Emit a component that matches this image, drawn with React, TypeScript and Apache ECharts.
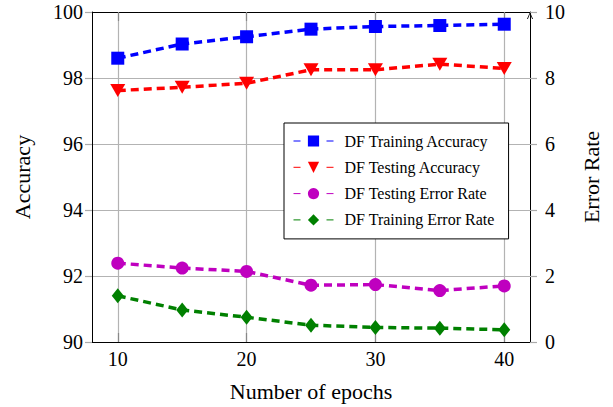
import React, { useEffect, useRef } from "react";
import * as echarts from "echarts";

const epochs = [10, 15, 20, 25, 30, 35, 40];
const xTicks = [10, 20, 30, 40];
const trainAcc = [98.6, 99.03, 99.25, 99.48, 99.56, 99.59, 99.63];
const testAcc = [97.62, 97.72, 97.84, 98.25, 98.25, 98.42, 98.29];
const testErr = [2.39, 2.24, 2.14, 1.72, 1.74, 1.56, 1.7];
const trainErr = [1.4, 0.97, 0.75, 0.51, 0.44, 0.42, 0.37];
const seriesNames = [
  "DF Training Accuracy",
  "DF Testing Accuracy",
  "DF Testing Error Rate",
  "DF Training Error Rate",
];

const FONT = "Liberation Serif";

function pairs(vals: number[]) {
  return epochs.map((x, i) => [x, vals[i]]);
}

export default function App() {
  const ref = useRef<HTMLDivElement>(null);
  useEffect(() => {
    if (!ref.current) return;
    const chart = echarts.init(ref.current, null, { renderer: "svg" });
    const dash = [8, 5];
    const mkSeries = (
      name: string,
      vals: number[],
      color: string,
      symbol: string,
      size: any,
      yAxisIndex: number,
      rotate = 0
    ) => ({
      name,
      type: "line",
      xAxisIndex: 0,
      yAxisIndex,
      data: pairs(vals),
      color,
      symbol,
      symbolSize: size,
      symbolRotate: rotate,
      showSymbol: true,
      lineStyle: { color, width: 3.5, type: dash },
      itemStyle: { color, opacity: 1 },
      z: 3,
    });
    chart.setOption({
      animation: false,
      backgroundColor: "#ffffff",
      textStyle: { fontFamily: FONT, color: "#000" },
      grid: { left: 92, right: 83, top: 12, bottom: 64, containLabel: false },
      legend: {
        orient: "vertical",
        left: 284,
        top: 123,
        padding: [10, 14, 11, 9],
        itemGap: 10.3,
        itemWidth: 40,
        itemHeight: 14,
        borderColor: "#000",
        borderWidth: 1,
        backgroundColor: "#fff",
        borderRadius: 0,
        data: seriesNames,
        lineStyle: { width: 1, type: [7, 26] },
        textStyle: {
          fontFamily: FONT,
          fontSize: 16,
          color: "#000",
          lineHeight: 14,
          padding: [0, 0, 0, 6],
        },
      },
      xAxis: [
        {
          type: "value",
          min: 8,
          max: 42,
          position: "bottom",
          name: "Number of epochs",
          nameLocation: "middle",
          nameGap: 38,
          nameTextStyle: { fontFamily: FONT, fontSize: 22, color: "#000" },
          axisLine: { show: true, onZero: false, lineStyle: { color: "#000", width: 1 } },
          axisTick: {
            show: true,
            inside: true,
            length: 9,
            customValues: xTicks,
            lineStyle: { color: "#888", width: 1.2 },
          },
          axisLabel: {
            customValues: xTicks,
            fontFamily: FONT,
            fontSize: 20,
            color: "#000",
            margin: 7,
          },
          splitLine: { show: true, lineStyle: { color: "#b3b3b3", width: 1.2 } },
        },
        {
          type: "value",
          min: 8,
          max: 42,
          position: "top",
          axisLine: { show: true, onZero: false, lineStyle: { color: "#000", width: 1 } },
          axisTick: {
            show: true,
            inside: true,
            length: 9,
            customValues: xTicks,
            lineStyle: { color: "#888", width: 1.2 },
          },
          axisLabel: { show: false },
          splitLine: { show: false },
        },
      ],
      yAxis: [
        {
          type: "value",
          min: 90,
          max: 100,
          interval: 2,
          position: "left",
          name: "Accuracy",
          nameLocation: "middle",
          nameGap: 59,
          nameTextStyle: { fontFamily: FONT, fontSize: 22, color: "#000" },
          axisLine: { show: true, onZero: false, lineStyle: { color: "#000", width: 1 } },
          axisTick: { show: true, inside: false, length: 7, lineStyle: { color: "#aaa", width: 1.2 } },
          axisLabel: { fontFamily: FONT, fontSize: 20, color: "#000", margin: 9 },
          splitLine: { show: true, lineStyle: { color: "#b3b3b3", width: 1.2 } },
        },
        {
          type: "value",
          min: 0,
          max: 10,
          interval: 2,
          position: "right",
          name: "Error Rate",
          nameLocation: "middle",
          nameGap: 50,
          nameTextStyle: { fontFamily: FONT, fontSize: 22, color: "#000" },
          axisLine: {
            show: true,
            onZero: false,
            symbol: ["none", "path://M0,7 L3,0 L6,7 L5.1,7 L3,1.8 L0.9,7 Z"],
            symbolSize: [6, 7],
            symbolOffset: [0, -3.5],
            lineStyle: { color: "#000", width: 1 },
          },
          axisTick: { show: true, inside: false, length: 7, lineStyle: { color: "#aaa", width: 1.2 } },
          axisLabel: { fontFamily: FONT, fontSize: 20, color: "#000", margin: 15 },
          splitLine: { show: false },
        },
      ],
      series: [
        mkSeries(seriesNames[0], trainAcc, "#0000ff", "rect", 13, 0),
        mkSeries(seriesNames[1], testAcc, "#ff0000", "triangle", [15, 13], 0, 180),
        mkSeries(seriesNames[2], testErr, "#bf00bf", "circle", 13, 1),
        mkSeries(seriesNames[3], trainErr, "#008000", "diamond", [12, 15], 1),
      ],
    });
    return () => chart.dispose();
  }, []);
  return (
    <div
      ref={ref}
      style={{ position: "fixed", left: 0, top: 0, width: 613, height: 407, background: "#fff" }}
    />
  );
}
